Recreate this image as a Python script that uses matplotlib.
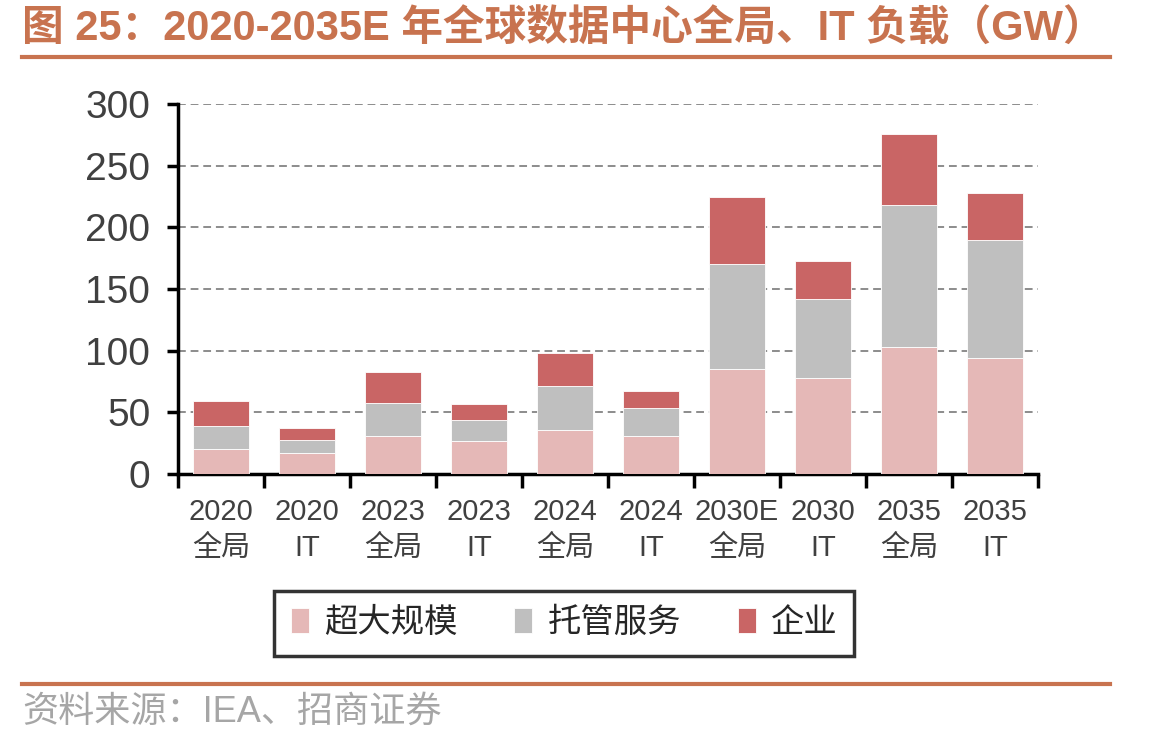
import matplotlib.pyplot as plt
import numpy as np

plt.rcParams['font.family'] = ['Liberation Sans', 'Noto Sans CJK SC']

# categories and series (GW)
categories = ["2020\n全局", "2020\nIT", "2023\n全局", "2023\nIT", "2024\n全局",
              "2024\nIT", "2030E\n全局", "2030\nIT", "2035\n全局", "2035\nIT"]
hyperscale = [20, 17, 31, 27, 36, 31, 85, 78, 103, 94]
colocation = [19, 10.5, 26.5, 17, 35, 22.5, 85, 64, 115, 96]
enterprise = [20, 10, 25, 13, 27, 14, 55, 31, 58, 38]
series_names = ["超大规模", "托管服务", "企业"]
colors = ["#E5B8B7", "#BFBFBF", "#C96565"]

title_color = "#C8734F"

fig = plt.figure(figsize=(11.56, 7.44), dpi=100)
ax = fig.add_axes([0.154, 0.363, 0.744, 0.497])

x = np.arange(len(categories))
bottom = np.zeros(len(categories))
for vals, name, c in zip([hyperscale, colocation, enterprise], series_names, colors):
    ax.bar(x, vals, width=0.66, bottom=bottom, color=c, label=name,
           edgecolor="white", linewidth=0.6, zorder=3)
    bottom += np.array(vals)

ax.set_xlim(-0.5, len(categories) - 0.5)
ax.set_ylim(0, 300)
ax.set_yticks(range(0, 301, 50))
ax.tick_params(axis='y', labelsize=28, labelcolor="#404040", length=8, width=2.5,
               direction='out', pad=12)
ax.yaxis.grid(True, linestyle=(0, (4, 2.5)), color="#8C8C8C", linewidth=1.4, zorder=0)

# category labels centered, tick marks at boundaries
ax.set_xticks(x)
ax.set_xticklabels(categories, fontsize=21, color="#404040", linespacing=1.4)
ax.tick_params(axis='x', length=0, pad=17)
ax.set_xticks(np.arange(-0.5, len(categories)), minor=True)
ax.tick_params(axis='x', which='minor', length=10, width=2.5, direction='out')

for s in ["top", "right"]:
    ax.spines[s].set_visible(False)
for s in ["left", "bottom"]:
    ax.spines[s].set_linewidth(2.5)
    ax.spines[s].set_color("black")

leg = fig.legend(loc="center", bbox_to_anchor=(0.488, 0.162), ncol=3, fontsize=24,
                 frameon=True, fancybox=False, edgecolor="black",
                 handlelength=0.55, handleheight=0.8, handletextpad=0.45,
                 columnspacing=1.7, borderpad=0.5, borderaxespad=0)
leg.get_frame().set_linewidth(2.5)
for t in leg.get_texts():
    t.set_color("#262626")

fig.text(0.019, 0.96, "图 25：2020-2035E 年全球数据中心全局、IT 负载（GW）",
         fontsize=30, fontweight="bold", color=title_color, va="center", ha="left")
fig.add_artist(plt.Line2D([0.019, 0.96], [0.923, 0.923], color=title_color,
                          linewidth=3, transform=fig.transFigure))
fig.add_artist(plt.Line2D([0.019, 0.96], [0.081, 0.081], color=title_color,
                          linewidth=3, transform=fig.transFigure))
fig.text(0.019, 0.043, "资料来源：IEA、招商证券", fontsize=26, color="#A6A6A6",
         va="center", ha="left")

fig.savefig("out.png", dpi=100)
